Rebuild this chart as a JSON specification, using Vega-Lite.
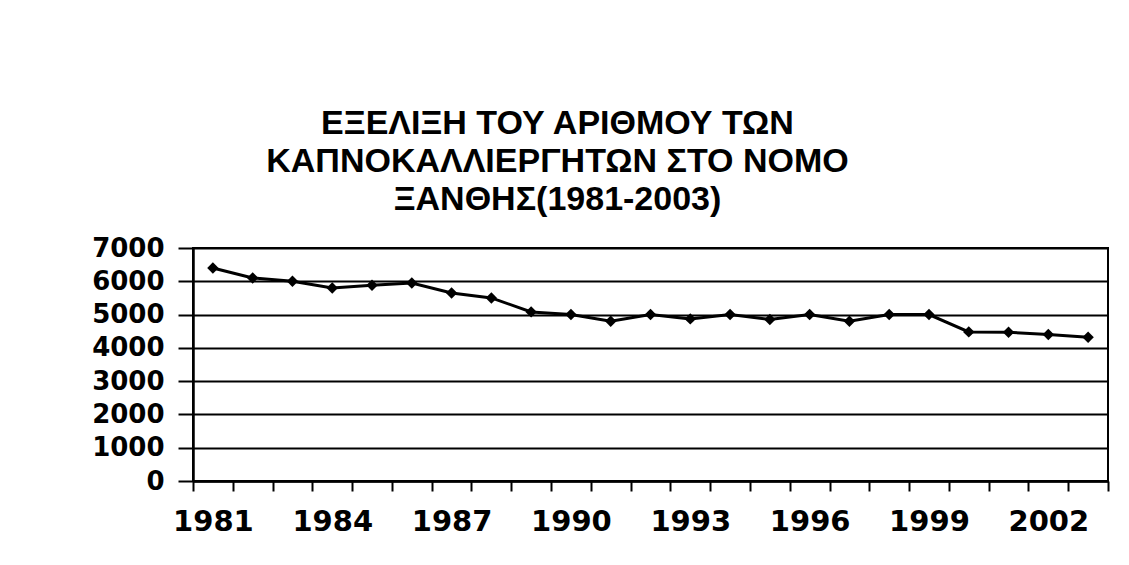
{
  "$schema": "https://vega.github.io/schema/vega-lite/v6.json",
  "autosize": "none",
  "width": 915,
  "height": 233,
  "padding": {"left": 193, "top": 248, "right": 21, "bottom": 84},
  "background": "white",
  "title": {
    "text": ["ΕΞΕΛΙΞΗ ΤΟΥ ΑΡΙΘΜΟΥ ΤΩΝ", "ΚΑΠΝΟΚΑΛΛΙΕΡΓΗΤΩΝ ΣΤΟ ΝΟΜΟ", "ΞΑΝΘΗΣ(1981-2003)"],
    "font": "Liberation Sans",
    "fontSize": 34,
    "fontWeight": "bold",
    "color": "black",
    "lineHeight": 38,
    "anchor": "middle",
    "dx": -93,
    "offset": 18
  },
  "data": {
    "values": [
      {"year": 1981, "count": 6400},
      {"year": 1982, "count": 6100},
      {"year": 1983, "count": 6000},
      {"year": 1984, "count": 5800},
      {"year": 1985, "count": 5880},
      {"year": 1986, "count": 5950},
      {"year": 1987, "count": 5650},
      {"year": 1988, "count": 5500},
      {"year": 1989, "count": 5080},
      {"year": 1990, "count": 5000},
      {"year": 1991, "count": 4800},
      {"year": 1992, "count": 5000},
      {"year": 1993, "count": 4870},
      {"year": 1994, "count": 5000},
      {"year": 1995, "count": 4850},
      {"year": 1996, "count": 5000},
      {"year": 1997, "count": 4800},
      {"year": 1998, "count": 5000},
      {"year": 1999, "count": 5000},
      {"year": 2000, "count": 4480},
      {"year": 2001, "count": 4470},
      {"year": 2002, "count": 4400},
      {"year": 2003, "count": 4320}
    ]
  },
  "config": {
    "view": {"stroke": "black", "strokeWidth": 2},
    "axis": {
      "labelFont": "DejaVu Sans",
      "labelFontWeight": "bold",
      "labelColor": "black",
      "domainColor": "black",
      "domainWidth": 2.5,
      "tickColor": "black",
      "tickWidth": 2,
      "gridColor": "black",
      "gridWidth": 2,
      "gridOpacity": 1
    }
  },
  "encoding": {
    "x": {
      "field": "year",
      "type": "ordinal",
      "title": null,
      "scale": {"paddingInner": 0, "paddingOuter": 0},
      "axis": {
        "labelAngle": 0,
        "labelFontSize": 29,
        "tickBand": "extent",
        "tickSize": 10,
        "labelPadding": 16,
        "grid": false,
        "labelExpr": "(datum.value - 1981) % 3 == 0 ? datum.label : ''"
      }
    },
    "y": {
      "field": "count",
      "type": "quantitative",
      "title": null,
      "scale": {"domain": [0, 7000], "nice": false},
      "axis": {
        "values": [0, 1000, 2000, 3000, 4000, 5000, 6000, 7000],
        "format": "d",
        "labelFontSize": 26,
        "tickSize": 15,
        "labelPadding": 14,
        "grid": true
      }
    }
  },
  "mark": {
    "type": "line",
    "color": "black",
    "strokeWidth": 3,
    "point": {"shape": "diamond", "size": 130, "filled": true, "color": "black"}
  }
}
